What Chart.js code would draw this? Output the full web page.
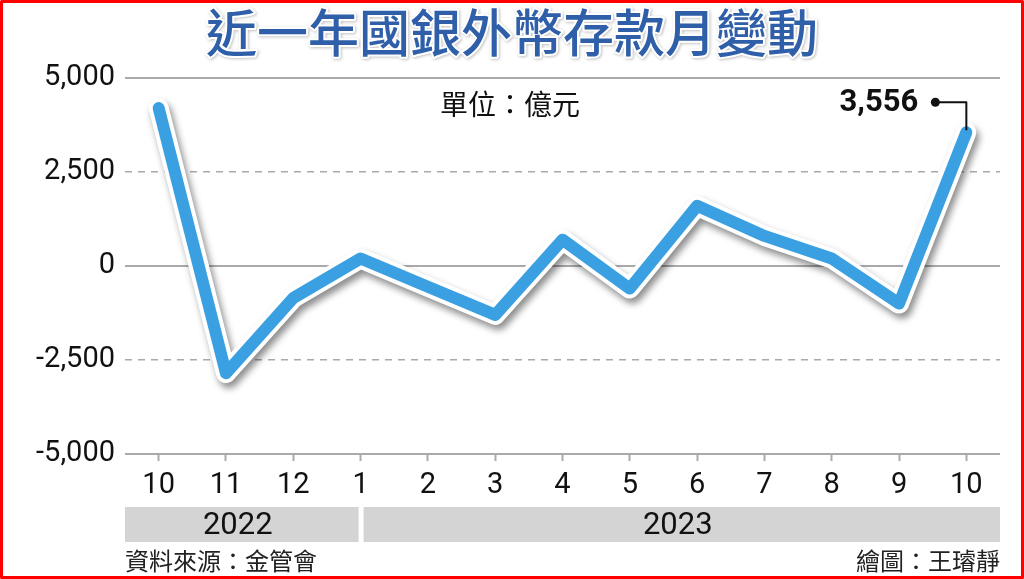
<!DOCTYPE html>
<html>
<head>
    <meta charset="utf-8">
    <title>近一年國銀外幣存款月變動</title>
    <script src="https://cdn.jsdelivr.net/npm/chart.js"></script>
    <style>
        html, body { margin: 0; padding: 0; background: #fff; }
        #wrap { width: 1024px; height: 579px; }
    </style>
</head>
<body>
<div id="wrap"><canvas id="grafica"></canvas></div>
<script>
    // datos (億元)
    const meses = ['10', '11', '12', '1', '2', '3', '4', '5', '6', '7', '8', '9', '10'];
    const anioDeMes = ['2022', '2022', '2022', '2023', '2023', '2023', '2023', '2023', '2023', '2023', '2023', '2023', '2023'];
    const variacion = [4200, -2850, -850, 200, -550, -1300, 700, -600, 1600, 800, 200, -1000, 3556];
    const ticksY = [-5000, -2500, 0, 2500, 5000];

    const titulo = '近一年國銀外幣存款月變動';
    const unidad = '單位：億元';
    const fuente = '資料來源：金管會';
    const autor = '繪圖：王璿靜';

    const CJK = '"Noto Sans CJK TC", "Noto Sans", sans-serif';
    const NUM = 'Roboto, "Liberation Sans", sans-serif';

    // sombra para el contorno blanco de la línea
    const sombra = {
        id: 'sombra',
        beforeDatasetDraw(chart, args) {
            if (args.index !== 1) return;
            const ctx = chart.ctx;
            ctx.save();
            ctx.shadowColor = 'rgba(0,0,0,0.45)';
            ctx.shadowBlur = 7;
            ctx.shadowOffsetX = 3;
            ctx.shadowOffsetY = 5;
        },
        afterDatasetDraw(chart, args) {
            if (args.index !== 1) return;
            chart.ctx.restore();
        }
    };

    const decorado = {
        id: 'decorado',
        beforeDraw(chart) {
            const ctx = chart.ctx;
            const area = chart.chartArea;
            const x = chart.scales.x;
            ctx.save();
            ctx.fillStyle = '#fff';
            ctx.fillRect(0, 0, chart.width, chart.height);

            // bandas de año
            const grupos = [];
            anioDeMes.forEach((a, i) => {
                const g = grupos[grupos.length - 1];
                if (g && g.anio === a) g.fin = i;
                else grupos.push({ anio: a, ini: i, fin: i });
            });
            grupos.forEach((g, k) => {
                const izq = k === 0 ? area.left : x.getPixelForValue(g.ini) + 3;
                const der = k === grupos.length - 1 ? area.right : x.getPixelForValue(grupos[k + 1].ini) - 2;
                ctx.fillStyle = '#d4d4d4';
                ctx.fillRect(izq, 507, der - izq, 35);
                ctx.fillStyle = '#111';
                ctx.font = '31px ' + NUM;
                ctx.textAlign = 'center';
                ctx.textBaseline = 'middle';
                ctx.fillText(g.anio, (izq + der) / 2 - 4, 526);
            });
            ctx.restore();
        },
        afterDraw(chart) {
            const ctx = chart.ctx;
            const x = chart.scales.x;
            const y = chart.scales.y;
            ctx.save();

            // título
            ctx.font = '500 51px ' + CJK;
            ctx.textAlign = 'center';
            ctx.textBaseline = 'middle';
            ctx.lineJoin = 'round';
            ctx.shadowColor = 'rgba(0,0,0,0.25)';
            ctx.shadowBlur = 3;
            ctx.shadowOffsetX = 1;
            ctx.shadowOffsetY = 1;
            ctx.strokeStyle = '#fff';
            ctx.lineWidth = 4;
            ctx.strokeText(titulo, 512, 33);
            ctx.shadowColor = 'transparent';
            ctx.fillStyle = '#2f5fa8';
            ctx.fillText(titulo, 512, 33);

            // unidad
            ctx.font = '28px ' + CJK;
            ctx.fillStyle = '#111';
            ctx.textAlign = 'left';
            ctx.fillText(unidad, 440, 104);

            // etiqueta del último valor
            const n = variacion.length - 1;
            const px = x.getPixelForValue(n);
            const py = y.getPixelForValue(variacion[n]);
            const ly = py - 30;
            ctx.strokeStyle = '#111';
            ctx.lineWidth = 2;
            ctx.beginPath();
            ctx.moveTo(px - 31, ly);
            ctx.lineTo(px, ly);
            ctx.lineTo(px, py - 2);
            ctx.stroke();
            ctx.fillStyle = '#111';
            ctx.beginPath();
            ctx.arc(px - 31, ly, 4.5, 0, Math.PI * 2);
            ctx.fill();
            ctx.font = 'bold 31px ' + NUM;
            ctx.textAlign = 'right';
            ctx.fillText(variacion[n].toLocaleString('en-US'), px - 48, ly + 1);

            // pie
            ctx.font = '24px ' + CJK;
            ctx.fillStyle = '#222';
            ctx.textAlign = 'left';
            ctx.fillText(fuente, 125, 561);
            ctx.textAlign = 'right';
            ctx.fillText(autor, 1000, 561);

            // marco rojo
            ctx.strokeStyle = '#ff0000';
            ctx.lineWidth = 3;
            ctx.strokeRect(1.5, 1.5, chart.width - 3, chart.height - 3);
            ctx.restore();
        }
    };

    new Chart(document.getElementById('grafica'), {
        type: 'line',
        data: {
            labels: meses,
            datasets: [{
                data: variacion,
                borderColor: '#3aa0e2',
                borderWidth: 12,
                borderCapStyle: 'round',
                borderJoinStyle: 'round',
                pointRadius: 0,
                tension: 0,
                order: 0
            }, {
                data: variacion,
                borderColor: '#ffffff',
                borderWidth: 20,
                borderCapStyle: 'round',
                borderJoinStyle: 'round',
                pointRadius: 0,
                tension: 0,
                order: 1
            }]
        },
        options: {
            responsive: true,
            maintainAspectRatio: false,
            animation: false,
            layout: { padding: { left: 0, right: 24, top: 78, bottom: 0 } },
            plugins: {
                legend: { display: false },
                tooltip: { enabled: false }
            },
            scales: {
                x: {
                    type: 'category',
                    offset: true,
                    grid: {
                        drawOnChartArea: false,
                        drawTicks: true,
                        tickLength: 7,
                        tickColor: '#aaaaaa',
                        tickWidth: 2,
                        offset: false
                    },
                    border: { display: false },
                    ticks: {
                        color: '#111',
                        font: { size: 29, family: NUM },
                        padding: 7,
                        maxRotation: 0,
                        autoSkip: false
                    },
                    afterFit(s) { s.height = 125; }
                },
                y: {
                    min: -5000,
                    max: 5000,
                    afterBuildTicks(s) { s.ticks = ticksY.map(v => ({ value: v })); },
                    grid: {
                        color: '#aaaaaa',
                        lineWidth: c => (c.tick && c.tick.value % 5000 !== 0) ? 1.5 : 2,
                        drawTicks: false
                    },
                    border: {
                        display: false,
                        dash: c => (c.tick && c.tick.value % 5000 !== 0) ? [7, 6] : []
                    },
                    ticks: {
                        color: '#111',
                        font: { size: 29, family: NUM },
                        padding: 10,
                        callback: v => v.toLocaleString('en-US')
                    },
                    afterFit(s) { s.width = 125; }
                }
            }
        },
        plugins: [sombra, decorado]
    });
</script>
</body>
</html>
